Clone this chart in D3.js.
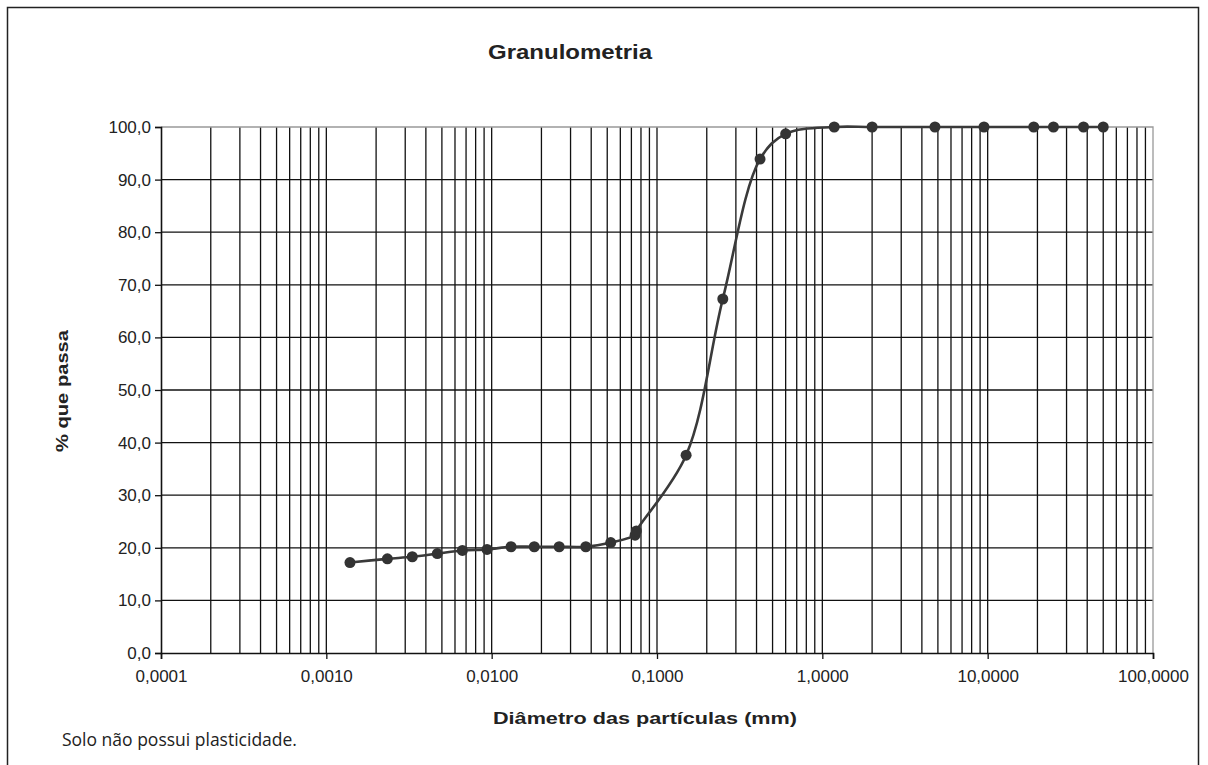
<!DOCTYPE html>
<html>
<head>
<meta charset="utf-8">
<script src="https://cdn.jsdelivr.net/npm/d3@7"></script>
<style>
  body { margin: 0; background: #fff; }
  svg { display: block; }
</style>
</head>
<body>
<div class="container"></div>
<script>
// diametros (mm) e % que passa
const diameters = [0.00139, 0.00234, 0.00331, 0.00469, 0.00665, 0.00938, 0.0131, 0.0181, 0.0256, 0.0371,
    0.0525, 0.0737, 0.075, 0.15, 0.25, 0.42, 0.6, 1.18, 2.0, 4.8, 9.5, 19, 25, 38, 50]
const passing = [17.2, 17.9, 18.3, 18.9, 19.5, 19.7, 20.2, 20.2, 20.2, 20.2,
    21.0, 22.4, 23.2, 37.6, 67.3, 93.9, 98.7, 100, 100, 100, 100, 100, 100, 100, 100]
const xTicks = [0.0001, 0.001, 0.01, 0.1, 1, 10, 100]
const yTicks = [0, 10, 20, 30, 40, 50, 60, 70, 80, 90, 100]

const loadGraph = () => {
    const w = 1208
    const h = 765
    const left = 161, right = 1153, top = 127, bottom = 653

    const xScale = d3.scaleLog().domain([0.0001, 100]).range([left, right])
    const yScale = d3.scaleLinear().domain([0, 100]).range([bottom, top])

    const comma = (f) => (d) => d3.format(f)(d).replace('.', ',')

    const svg = d3.select('.container')
        .append('svg')
        .attr('width', w)
        .attr('height', h)
        .style('font-family', 'Liberation Sans, Arial, sans-serif')

    // moldura externa
    svg.append('rect')
        .attr('x', 7.5).attr('y', 7.5)
        .attr('width', 1191).attr('height', 800)
        .attr('fill', 'none')
        .attr('stroke', '#222')
        .attr('stroke-width', 1.5)

    // linhas de grade verticais (1..9 por decada)
    const minorVals = []
    for (let k = -4; k < 2; k++) {
        for (let m = 1; m < 10; m++) minorVals.push(m * Math.pow(10, k))
    }
    svg.append('g')
        .selectAll('line')
        .data(minorVals.filter((d) => d > 0.0001))
        .enter()
        .append('line')
        .attr('x1', (d) => xScale(d)).attr('x2', (d) => xScale(d))
        .attr('y1', top).attr('y2', bottom)
        .attr('stroke', '#111')
        .attr('stroke-width', 1.3)

    // linhas de grade horizontais
    svg.append('g')
        .selectAll('line')
        .data(yTicks.filter((d) => d > 0 && d < 100))
        .enter()
        .append('line')
        .attr('x1', left).attr('x2', right)
        .attr('y1', (d) => yScale(d)).attr('y2', (d) => yScale(d))
        .attr('stroke', '#111')
        .attr('stroke-width', 1.3)

    // borda da area de plotagem
    svg.append('path')
        .attr('d', `M${left},${top}H${right}V${bottom}`)
        .attr('fill', 'none')
        .attr('stroke', '#999')
        .attr('stroke-width', 1.3)

    const xAxis = d3.axisBottom(xScale).tickValues(xTicks).tickFormat(comma('.4f')).tickSize(6).tickPadding(11)
    const yAxis = d3.axisLeft(yScale).tickValues(yTicks).tickFormat(comma('.1f')).tickSize(6).tickPadding(4)

    const gx = svg.append('g')
        .attr('transform', 'translate(0,' + bottom + ')')
        .call(xAxis)
    const gy = svg.append('g')
        .attr('transform', 'translate(' + left + ',0)')
        .call(yAxis)

    for (const g of [gx, gy]) {
        g.select('.domain').attr('stroke', '#111').attr('stroke-width', 1.6)
        g.selectAll('.tick line').attr('stroke', '#111').attr('stroke-width', 1.3)
        g.selectAll('.tick text')
            .attr('fill', '#222')
            .style('font-size', '17px')
            .style('font-family', 'Liberation Sans, Arial, sans-serif')
    }

    // curva suavizada
    const pts = diameters.map((d, i) => [d, passing[i]])
    const line = d3.line()
        .x((d) => xScale(d[0]))
        .y((d) => yScale(d[1]))
        .curve(d3.curveCatmullRom.alpha(0.5))

    svg.append('path')
        .datum(pts)
        .attr('d', line)
        .attr('fill', 'none')
        .attr('stroke', '#3a3a3a')
        .attr('stroke-width', 2.6)

    svg.append('g')
        .selectAll('circle')
        .data(pts)
        .enter()
        .append('circle')
        .attr('cx', (d) => xScale(d[0]))
        .attr('cy', (d) => yScale(d[1]))
        .attr('r', 5.5)
        .attr('fill', '#333')

    // titulos
    svg.append('text')
        .attr('x', 570).attr('y', 59)
        .style('text-anchor', 'middle')
        .style('font-size', '20px')
        .style('font-weight', 'bold')
        .attr('textLength', 164)
        .attr('lengthAdjust', 'spacingAndGlyphs')
        .attr('fill', '#222')
        .text('Granulometria')

    svg.append('text')
        .attr('x', 645).attr('y', 724)
        .style('text-anchor', 'middle')
        .style('font-size', '17px')
        .style('font-weight', 'bold')
        .attr('textLength', 304)
        .attr('lengthAdjust', 'spacingAndGlyphs')
        .attr('fill', '#222')
        .text('Diâmetro das partículas (mm)')

    svg.append('text')
        .attr('transform', 'rotate(-90)')
        .attr('x', -391).attr('y', 68)
        .style('text-anchor', 'middle')
        .style('font-size', '17px')
        .style('font-weight', 'bold')
        .attr('textLength', 122)
        .attr('lengthAdjust', 'spacingAndGlyphs')
        .attr('fill', '#222')
        .text('% que passa')

    svg.append('text')
        .attr('x', 62).attr('y', 746)
        .style('font-size', '17.5px')
        .style('font-family', 'Open Sans, Noto Sans, sans-serif')
        .attr('fill', '#222')
        .text('Solo não possui plasticidade.')
}
document.addEventListener('DOMContentLoaded', loadGraph)
</script>
</body>
</html>
